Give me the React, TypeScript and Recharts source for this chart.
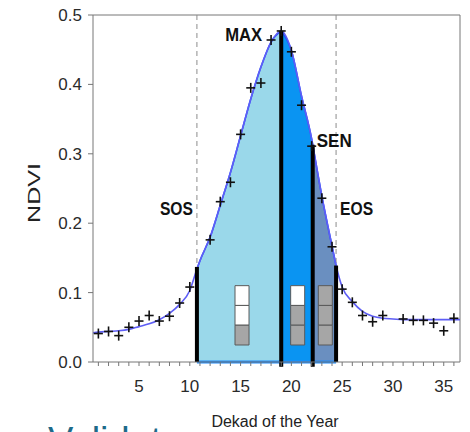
import React from 'react';
import { ComposedChart, Line, Area, Scatter, XAxis, YAxis, ReferenceLine, ReferenceArea, ReferenceDot } from 'recharts';

// fitted curve
const FIT_DEKAD = [0.47, 1, 2, 3, 4, 5, 6, 7, 8, 9, 10, 10.7, 11, 12, 13, 14, 15, 16, 17, 18, 19, 20, 21, 22, 22.1, 23, 24, 24.4, 25, 26, 27, 28, 29, 30, 31, 32, 33, 34, 35, 36, 36.6];
const FIT_NDVI = [0.042, 0.043, 0.044, 0.045, 0.047, 0.051, 0.055, 0.061, 0.070, 0.083, 0.103, 0.134, 0.146, 0.180, 0.226, 0.273, 0.326, 0.379, 0.425, 0.461, 0.477, 0.449, 0.383, 0.321, 0.313, 0.239, 0.167, 0.139, 0.108, 0.087, 0.073, 0.066, 0.063, 0.062, 0.061, 0.061, 0.061, 0.061, 0.061, 0.061, 0.061];

// observed dekads (crosses)
const OBS_DEKAD = [1, 2, 3, 4, 5, 6, 7, 8, 9, 10, 12, 13, 14, 15, 16, 17, 18, 19, 20, 21, 22, 23, 24, 25, 26, 27, 28, 29, 31, 32, 33, 34, 35, 36];
const OBS_NDVI = [0.041, 0.044, 0.038, 0.050, 0.059, 0.067, 0.059, 0.066, 0.085, 0.108, 0.176, 0.231, 0.259, 0.328, 0.395, 0.402, 0.464, 0.477, 0.447, 0.370, 0.311, 0.236, 0.166, 0.105, 0.086, 0.067, 0.058, 0.067, 0.062, 0.060, 0.060, 0.056, 0.045, 0.063];

// phenology stages
const PHENO_NAMES = ['SOS', 'MAX', 'SEN', 'EOS'];
const PHENO_DEKAD = [10.7, 19, 22.1, 24.4];
const PHENO_NDVI = [0.137, 0.477, 0.313, 0.139];

// stage indicator stacks, top cell first (1 = grey)
const STAGE_CELLS = [[0, 0, 1], [0, 1, 1], [1, 1, 1]];

const X_TICKS = [1, 2, 3, 4, 5, 6, 7, 8, 9, 10, 11, 12, 13, 14, 15, 16, 17, 18, 19, 20, 21, 22, 23, 24, 25, 26, 27, 28, 29, 30, 31, 32, 33, 34, 35, 36];
const Y_TICKS = [0, 0.1, 0.2, 0.3, 0.4, 0.5];

const [SOS, MAX, SEN, EOS] = PHENO_DEKAD;

// layout of the little indicator boxes (data units)
const BOX_X = [14.45, 19.93, 22.65];
const BOX_W = 1.38;
const BOX_Y0 = 0.0245;
const CELL_H = 0.0285;
const LABEL_Y = 0.212;

const FONT = "'Liberation Sans', Arial, sans-serif";
const AXIS = '#767676';

const fitRows = FIT_DEKAD.map((d, i) => ({
  dekad: d,
  fit: FIT_NDVI[i],
  green: d >= SOS && d <= MAX ? FIT_NDVI[i] : null,
  peak: d >= MAX && d <= SEN ? FIT_NDVI[i] : null,
  sen: d >= SEN && d <= EOS ? FIT_NDVI[i] : null,
}));

const obsRows = OBS_DEKAD.map((d, i) => ({ dekad: d, obs: OBS_NDVI[i] }));

const Cross = ({ cx, cy }: any) => (
  <g stroke="#111" strokeWidth={1.6}>
    <line x1={cx - 4.5} y1={cy} x2={cx + 4.5} y2={cy} />
    <line x1={cx} y1={cy - 5} x2={cx} y2={cy + 5} />
  </g>
);

const tag = (text: string, dx: number, dy: number, anchor: 'start' | 'end', len: number) => (props: any) => {
  const vb = props.viewBox;
  return (
    <text x={vb.x + dx} y={vb.y + dy} textAnchor={anchor} fontFamily={FONT} fontWeight="bold" fontSize={19} fill="#111" textLength={len} lengthAdjust="spacingAndGlyphs">
      {text}
    </text>
  );
};

const LABEL_OFFSETS: Record<string, [number, number, 'start' | 'end', number]> = {
  SOS: [-4, 0, 'end', 33],
  MAX: [-19, 10, 'end', 37],
  SEN: [4, 2, 'start', 35],
  EOS: [4, 0, 'start', 33],
};

export default function App() {
  return (
    <div style={{ position: 'absolute', left: 0, top: 0, width: 470, height: 432 }}>
      <div style={{ position: 'absolute', left: 48, top: 422, fontFamily: FONT, fontSize: 38, lineHeight: '38px', color: '#1d6a89', whiteSpace: 'nowrap' }}>
        Validate
      </div>
      <ComposedChart width={470} height={432} data={fitRows} margin={{ top: 15, right: 10, bottom: 0, left: 0 }}>
        <XAxis
          type="number"
          dataKey="dekad"
          domain={[0.47, 36.6]}
          allowDataOverflow
          ticks={X_TICKS}
          interval={0}
          tickFormatter={(v: number) => (v % 5 === 0 ? String(v) : '')}
          height={70}
          tickSize={4}
          tickMargin={14}
          stroke={AXIS}
          tick={{ fill: '#2a2a2a', fontSize: 17, fontFamily: FONT }}
          label={(p: any) => (
            <text x={275} y={426.5} textAnchor="middle" fontFamily={FONT} fontSize={16} fill="#222">
              Dekad of the Year
            </text>
          )}
        />
        <YAxis
          type="number"
          domain={[0, 0.5]}
          allowDataOverflow
          ticks={Y_TICKS}
          interval={0}
          width={93}
          tickSize={5}
          tickMargin={6}
          stroke={AXIS}
          tickFormatter={(v: number) => v.toFixed(1)}
          tick={{ fill: '#2a2a2a', fontSize: 17, fontFamily: FONT }}
          label={(p: any) => (
            <text x={40} y={193} transform="rotate(-90, 40, 193)" textAnchor="middle" fontFamily={FONT} fontSize={17} fill="#222" textLength={60} lengthAdjust="spacingAndGlyphs">
              NDVI
            </text>
          )}
        />
        <ReferenceLine y={0.5} stroke={AXIS} strokeWidth={1} />
        <ReferenceLine x={36.6} stroke={AXIS} strokeWidth={1} />
        <ReferenceLine x={SOS} stroke="#8c8c8c" strokeDasharray="5 4" />
        <ReferenceLine x={EOS} stroke="#8c8c8c" strokeDasharray="5 4" />

        <Line dataKey="fit" type="monotone" stroke="#5e5ef5" strokeWidth={1.6} dot={false} isAnimationActive={false} />
        <Area dataKey="green" type="monotone" stroke="#1f4dff" strokeWidth={1.6} fill="#9ad8ea" fillOpacity={1} isAnimationActive={false} />
        <Area dataKey="peak" type="monotone" stroke="#1f4dff" strokeWidth={1.6} fill="#0a94f2" fillOpacity={1} isAnimationActive={false} />
        <Area dataKey="sen" type="monotone" stroke="#1f4dff" strokeWidth={1.6} fill="#6a8fc0" fillOpacity={1} isAnimationActive={false} />

        <ReferenceLine segment={[{ x: SOS, y: 0 }, { x: EOS, y: 0 }]} stroke="#1a8cff" strokeWidth={3} ifOverflow="visible" />

        {STAGE_CELLS.map((cells, s) =>
          cells.map((c, k) => (
            <ReferenceArea
              key={`cell-${s}-${k}`}
              x1={BOX_X[s]}
              x2={BOX_X[s] + BOX_W}
              y1={BOX_Y0 + (cells.length - 1 - k) * CELL_H}
              y2={BOX_Y0 + (cells.length - k) * CELL_H}
              fill={c ? '#a6a6a6' : '#ffffff'}
              fillOpacity={1}
              stroke="#5a5a5a"
              strokeWidth={1}
            />
          ))
        )}

        {PHENO_NAMES.map((name, i) => (
          <ReferenceLine
            key={name}
            segment={[{ x: PHENO_DEKAD[i], y: name === 'MAX' || name === 'SEN' ? -0.007 : 0 }, { x: PHENO_DEKAD[i], y: PHENO_NDVI[i] }]}
            stroke="#000"
            strokeWidth={4}
            ifOverflow="visible"
          />
        ))}

        <Scatter data={obsRows} dataKey="obs" shape={<Cross />} isAnimationActive={false} />

        {PHENO_NAMES.map((name, i) => {
          const [dx, dy, anchor, len] = LABEL_OFFSETS[name];
          const y = name === 'SOS' || name === 'EOS' ? LABEL_Y : PHENO_NDVI[i];
          return (
            <ReferenceDot key={`lbl-${name}`} x={PHENO_DEKAD[i]} y={y} r={0} fill="none" stroke="none" label={tag(name, dx, dy, anchor, len)} />
          );
        })}
      </ComposedChart>
    </div>
  );
}
